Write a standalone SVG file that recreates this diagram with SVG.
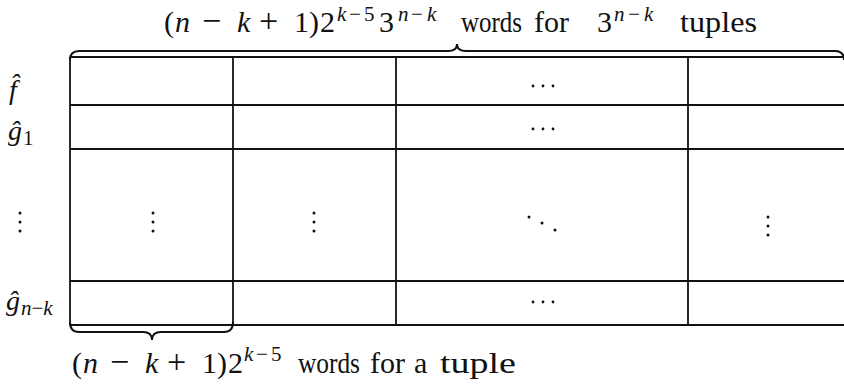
<svg xmlns="http://www.w3.org/2000/svg" width="844" height="392" viewBox="0 0 844 392">
<style>
.ln{stroke:#111;stroke-width:1.8;fill:none}
.br{stroke:#111;stroke-width:2;fill:none}
.t{font-family:"Liberation Serif","DejaVu Serif",serif;font-size:30px;fill:#111}
.i{font-style:italic}
.s{font-size:21px}
.o{font-size:34px}
.r{font-size:28px}
.d{fill:#111}
</style>
<rect width="844" height="392" fill="#fff"/>
<g id="grid">
<line class="ln" x1="70" y1="57" x2="844" y2="57"/>
<line class="ln" x1="70" y1="105" x2="844" y2="105"/>
<line class="ln" x1="70" y1="149" x2="844" y2="149"/>
<line class="ln" x1="70" y1="281" x2="844" y2="281"/>
<line class="ln" x1="70" y1="325" x2="844" y2="325"/>
<line class="ln" x1="70" y1="57" x2="70" y2="325"/>
<line class="ln" x1="233" y1="57" x2="233" y2="325"/>
<line class="ln" x1="396" y1="57" x2="396" y2="325"/>
<line class="ln" x1="688" y1="57" x2="688" y2="325"/>
</g>
<g id="braces">
<path class="br" d="M70,60 Q70,51 79,51 L448,51 Q457,51 457,44 Q457,51 466,51 L835,51 Q844,51 844,60"/>
<path class="br" d="M70,322 Q70,332 79,332 L143,332 Q152,332 152,340 Q152,332 161,332 L224,332 Q233,332 233,322"/>
</g>
<g id="top-label">
<text class="t"><tspan x="164" y="32">(</tspan><tspan class="i" x="175" y="32">n</tspan><tspan class="o" x="202" y="32">−</tspan><tspan class="i" x="237" y="32">k</tspan><tspan class="o" x="259" y="32">+</tspan><tspan x="294" y="32">1</tspan><tspan x="309" y="32">)</tspan><tspan x="320" y="32">2</tspan><tspan class="s i" x="337" y="21">k</tspan><tspan class="s" x="349" y="21">−</tspan><tspan class="s" x="364" y="21">5</tspan><tspan x="379" y="32">3</tspan><tspan class="s i" x="398" y="21">n</tspan><tspan class="s" x="411" y="21">−</tspan><tspan class="s i" x="427" y="21">k</tspan></text>
<text class="t" x="461" y="32" textLength="61" lengthAdjust="spacingAndGlyphs">words</text>
<text class="t" x="534" y="32">for</text>
<text class="t"><tspan x="597" y="32">3</tspan><tspan class="s i" x="614" y="21">n</tspan><tspan class="s" x="628" y="21">−</tspan><tspan class="s i" x="644" y="21">k</tspan></text>
<text class="t" x="680" y="32" textLength="77" lengthAdjust="spacingAndGlyphs">tuples</text>
</g>
<g id="bottom-label">
<text class="t"><tspan x="72" y="373">(</tspan><tspan class="i" x="83" y="373">n</tspan><tspan class="o" x="110" y="373">−</tspan><tspan class="i" x="145" y="373">k</tspan><tspan class="o" x="167" y="373">+</tspan><tspan x="202" y="373">1</tspan><tspan x="217" y="373">)</tspan><tspan x="228" y="373">2</tspan><tspan class="s i" x="244" y="361">k</tspan><tspan class="s" x="256" y="361">−</tspan><tspan class="s" x="271" y="361">5</tspan></text>
<text class="t" x="298" y="373" textLength="62" lengthAdjust="spacingAndGlyphs">words</text>
<text class="t" x="370" y="373">for</text>
<text class="t" x="414" y="373">a</text>
<text class="t" x="440" y="373" textLength="76" lengthAdjust="spacingAndGlyphs">tuple</text>
</g>
<g id="row-labels">
<text class="t r i" x="9" y="99">f̂</text>
<text class="t r i" x="8" y="140">ĝ</text>
<text class="t s" x="23" y="145">1</text>
<circle class="d" cx="20" cy="213" r="1.5"/><circle class="d" cx="20" cy="222" r="1.5"/><circle class="d" cx="20" cy="231" r="1.5"/>
<text class="t r i" x="6" y="310">ĝ</text>
<text class="t s" x="21" y="315"><tspan class="i">n</tspan>−<tspan class="i">k</tspan></text>
</g>
<g id="cell-dots">
<circle class="d" cx="533" cy="86" r="1.4"/><circle class="d" cx="543" cy="86" r="1.4"/><circle class="d" cx="553" cy="86" r="1.4"/>
<circle class="d" cx="533" cy="129" r="1.4"/><circle class="d" cx="543" cy="129" r="1.4"/><circle class="d" cx="553" cy="129" r="1.4"/>
<circle class="d" cx="533" cy="302" r="1.4"/><circle class="d" cx="543" cy="302" r="1.4"/><circle class="d" cx="553" cy="302" r="1.4"/>
<circle class="d" cx="153" cy="213" r="1.5"/><circle class="d" cx="153" cy="222" r="1.5"/><circle class="d" cx="153" cy="231" r="1.5"/>
<circle class="d" cx="314" cy="213" r="1.5"/><circle class="d" cx="314" cy="222" r="1.5"/><circle class="d" cx="314" cy="231" r="1.5"/>
<circle class="d" cx="768" cy="217" r="1.5"/><circle class="d" cx="768" cy="226" r="1.5"/><circle class="d" cx="768" cy="235" r="1.5"/>
<circle class="d" cx="529" cy="217" r="1.5"/><circle class="d" cx="542" cy="223" r="1.5"/><circle class="d" cx="555" cy="230" r="1.5"/>
</g>
</svg>
